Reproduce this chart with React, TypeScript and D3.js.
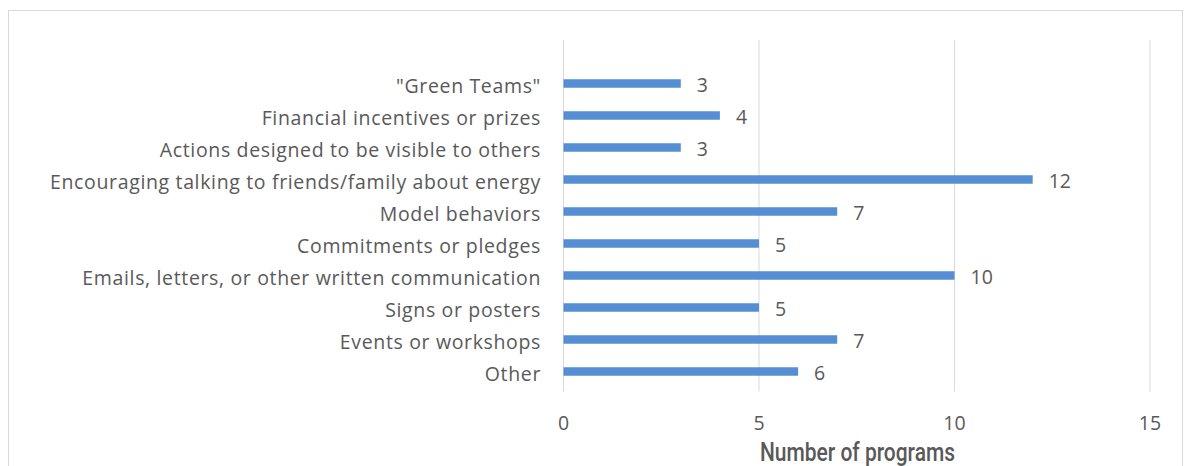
import React from "react";
import * as d3 from "d3";

const categories = [
  '"Green Teams"',
  "Financial incentives or prizes",
  "Actions designed to be visible to others",
  "Encouraging talking to friends/family about energy",
  "Model behaviors",
  "Commitments or pledges",
  "Emails, letters, or other written communication",
  "Signs or posters",
  "Events or workshops",
  "Other",
];
const values = [3, 4, 3, 12, 7, 5, 10, 5, 7, 6];
const xTicks = [0, 5, 10, 15];
const axisTitle = "Number of programs";

const W = 1184;
const H = 466;

export default function App() {
  const x = d3.scaleLinear().domain([0, 15]).range([563.5, 1150]);
  const y = d3.scaleBand().domain(categories).range([67.5, 387.5]).paddingInner(0.735).paddingOuter(0.3675);
  const bh = y.bandwidth();
  const font = "'Open Sans', sans-serif";
  const grey = "#595959";
  return (
    <svg width={W} height={H} style={{ position: "absolute", left: 0, top: 0 }}>
      <rect x={0} y={0} width={W} height={H} fill="#fff" />
      <rect x={8.5} y={10.5} width={1174} height={470} fill="none" stroke="#d9d9d9" strokeWidth={1} />
      {xTicks.map((t) => (
        <line key={t} x1={x(t)} x2={x(t)} y1={40} y2={391.5} stroke="#d9d9d9" strokeWidth={1} />
      ))}
      {categories.map((c, i) => {
        const yc = (y(c) as number) + bh / 2;
        return (
          <g key={c}>
            <rect x={x(0)} y={y(c)} width={x(values[i]) - x(0)} height={bh} fill="#558ed5" />
            <text x={541} y={yc + 9} textAnchor="end" fontFamily={font} fontSize={19.5} letterSpacing={0.65} fill={grey}>
              {c}
            </text>
            <text x={x(values[i]) + 16} y={yc + 8} fontFamily={font} fontSize={19.5} fill={grey}>
              {values[i]}
            </text>
          </g>
        );
      })}
      {xTicks.map((t) => (
        <text key={"t" + t} x={x(t)} y={430} textAnchor="middle" fontFamily={font} fontSize={19.5} fill={grey}>
          {t}
        </text>
      ))}
      <text x={857.5} y={460.5} textAnchor="middle" fontFamily="Roboto, sans-serif" fontWeight={500} fontSize={25} fill={grey} textLength={195} lengthAdjust="spacingAndGlyphs">
        {axisTitle}
      </text>
    </svg>
  );
}
